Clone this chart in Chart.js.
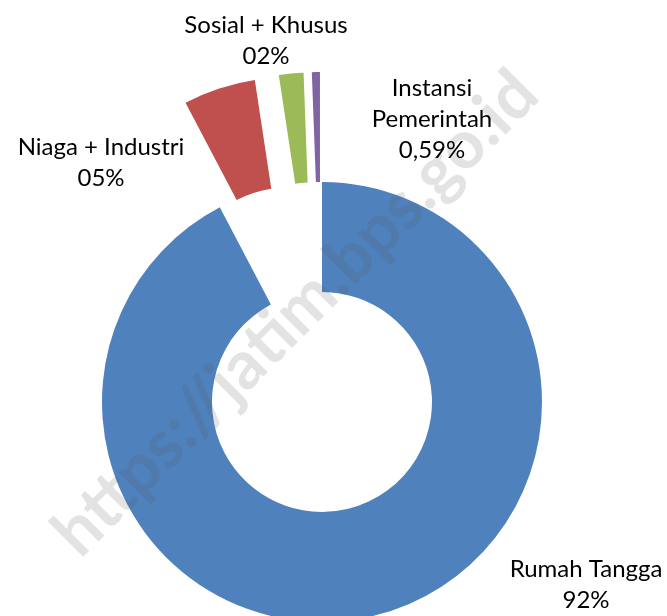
<!DOCTYPE html>
<html>
<head>
<meta charset="utf-8">
<script src="https://cdn.jsdelivr.net/npm/chart.js@4.4.1/dist/chart.umd.min.js"></script>
<style>
    html, body { margin: 0; padding: 0; background: #fff; }
    canvas { display: block; }
</style>
</head>
<body>
<canvas id="pelanggan-chart" width="667" height="616"></canvas>
<script>
// persentase pelanggan per golongan
const kategori = ["Rumah Tangga", "Niaga + Industri", "Sosial + Khusus", ["Instansi", "Pemerintah"]];
const nilai = [92.3, 5.3, 1.8, 0.59];
const labelPersen = ["92%", "05%", "02%", "0,59%"];
const warna = ["#4F81BD", "#C0504D", "#9BBB59", "#8064A2"];

// letak label (relatif ke pusat donat), jarak irisan yang dipisah (px)
const letakLabel = [[264, 175], [-221, -247.5], [-56, -369.5], [110, -306]];
const jarakPisah = [0, 110, 110, 110];
const tinggiBaris = 31;

// geser irisan keluar sepanjang sudut tengahnya (offset bawaan bikin irisan kecil menyempit)
const pisahPlugin = {
    id: "pisahIrisan",
    afterDatasetUpdate(chart, args) {
        args.meta.data.forEach((arc, i) => {
            const tengah = (arc.startAngle + arc.endAngle) / 2;
            arc.x += Math.cos(tengah) * jarakPisah[i];
            arc.y += Math.sin(tengah) * jarakPisah[i];
        });
    }
};

const labelPlugin = {
    id: "labelIrisan",
    afterDatasetsDraw(chart) {
        const ctx = chart.ctx;
        const area = chart.chartArea;
        const cx = (area.left + area.right) / 2;
        const cy = (area.top + area.bottom) / 2;

        // watermark
        ctx.save();
        ctx.font = "bold 60px Lato";
        const ukuran = 60 * 653 / ctx.measureText("https://jatim.bps.go.id").width;
        ctx.font = "bold " + ukuran + "px Lato";
        ctx.translate(311, 329);
        ctx.rotate(-Math.PI / 4);
        ctx.fillStyle = "rgba(90, 90, 90, 0.17)";
        ctx.textAlign = "center";
        ctx.textBaseline = "alphabetic";
        ctx.fillText("https://jatim.bps.go.id", 0, 0);
        ctx.restore();

        // label kategori + persen
        ctx.save();
        ctx.font = "24px Lato";
        ctx.fillStyle = "#000";
        ctx.textAlign = "center";
        ctx.textBaseline = "alphabetic";
        kategori.forEach((nama, i) => {
            const baris = [].concat(nama, labelPersen[i]);
            const [dx, dy] = letakLabel[i];
            baris.forEach((teks, j) => {
                ctx.fillText(teks, cx + dx, cy + dy + j * tinggiBaris);
            });
        });
        ctx.restore();
    }
};

new Chart(document.querySelector("#pelanggan-chart"), {
    type: "doughnut",
    data: {
        labels: kategori,
        datasets: [{
            data: nilai,
            backgroundColor: warna,
            borderWidth: 0,
            hoverOffset: 0,
            radius: 220,
            cutout: "50%",
            clip: false
        }]
    },
    options: {
        responsive: false,
        animation: false,
        layout: { padding: { top: 188, left: 0, right: 23, bottom: 0 } },
        plugins: {
            legend: { display: false },
            tooltip: { enabled: false }
        }
    },
    plugins: [pisahPlugin, labelPlugin]
});
</script>
</body>
</html>
